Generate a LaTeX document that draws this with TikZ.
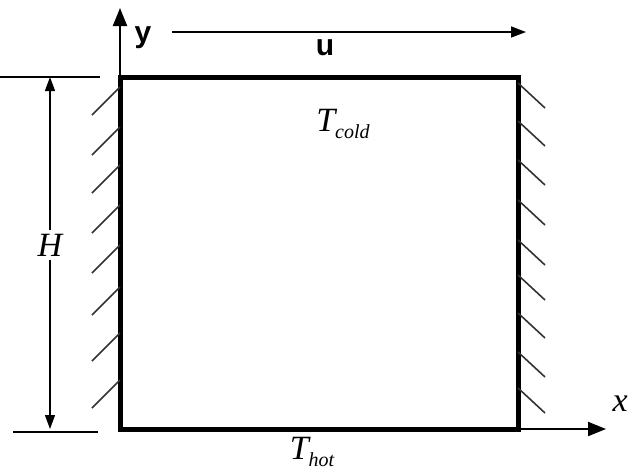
\documentclass[tikz,border=0pt]{standalone}
\usepackage{fontspec}
\setmainfont{Liberation Serif}
\setsansfont{Liberation Sans}
\usetikzlibrary{arrows.meta}

\begin{document}
\begin{tikzpicture}[x=1pt,y=-1pt,>={Triangle[width=14pt,length=18pt]},
    wall/.style={line width=5pt,line join=miter},
    axis/.style={line width=2pt,->},
    hatch/.style={line width=1.6pt,black!80},
    dimline/.style={line width=1.3pt},
    mathlbl/.style={font=\itshape\fontsize{34}{38}\selectfont},
    boldlbl/.style={font=\sffamily\bfseries\fontsize{30}{34}\selectfont}]
  \useasboundingbox (0,0) rectangle (629,475);
  % box corners
  \coordinate (bl) at (120,429);
  \coordinate (br) at (518,429);
  \coordinate (tr) at (518,77);
  \coordinate (tl) at (120,77);
  % axes
  \coordinate (yend) at (120,8);
  \coordinate (xend) at (606,429);
  \draw[axis] (bl) -- (yend);
  \draw[axis] (bl) -- (xend);
  \node[boldlbl] (ylbl) at (143,38) {y};
  \node[mathlbl,anchor=east,inner sep=1pt] (xlbl) at (629,404) {x};
  % lid velocity
  \coordinate (ustart) at (172,32);
  \coordinate (uend) at (526,32);
  \draw[axis,>={Triangle[width=11pt,length=15pt]},line width=1.5pt] (ustart) -- (uend);
  \node[boldlbl] (ulbl) at (325,48) {u};
  % walls
  \draw[wall] (bl) -- (tl) -- (tr) -- (br) -- cycle;
  % hatching
  \foreach \yy in {87,127,165,205,245,287,333,380}
    \draw[hatch] (120,\yy) -- ++(-28,28);
  \foreach \yy in {83,121,160,200,240,275,313,352,388}
    \draw[hatch] (518,\yy) -- ++(27,25);
  % height
  \coordinate (htop) at (50,77);
  \coordinate (hbot) at (50,429);
  \draw[dimline] (0,77) -- (100,77);
  \draw[dimline] (13,432) -- (98,432);
  \node[mathlbl] (hlbl) at (50,245) {H};
  \draw[dimline,->,>={Triangle[width=10pt,length=14pt]}] (hlbl) -- (htop);
  \draw[dimline,->,>={Triangle[width=10pt,length=14pt]}] (hlbl) -- (hbot);
  % temperatures
  \node[mathlbl] (tcold) at (343,124) {T\raisebox{-7pt}{\fontsize{20}{22}\selectfont cold}};
  \node[mathlbl] (thot) at (312,452) {T\raisebox{-7pt}{\fontsize{20}{22}\selectfont hot}};
\end{tikzpicture}
\end{document}
